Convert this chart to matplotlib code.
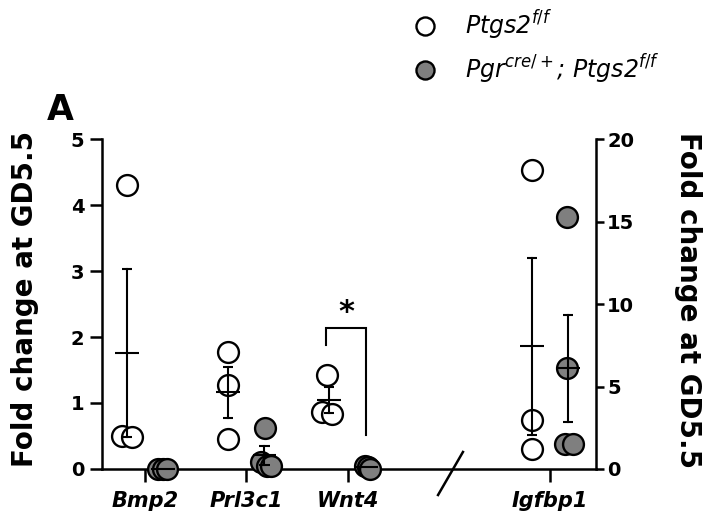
import matplotlib
matplotlib.use('Agg')
import matplotlib.pyplot as plt
import numpy as np
from matplotlib.lines import Line2D

# ---------------- data ----------------
categories = ['Bmp2', 'Prl3c1', 'Wnt4', 'Igfbp1']
cat_pos = [0, 1, 2, 4]          # category slots (slot 3 = axis break)

bmp2_ctrl = [4.30, 0.50, 0.48]
bmp2_cko = [0.00, 0.00, 0.00]
prl3c1_ctrl = [1.77, 1.27, 0.45]
prl3c1_cko = [0.62, 0.10, 0.05, 0.05]
wnt4_ctrl = [1.43, 0.86, 0.83]
wnt4_cko = [0.05, 0.03, 0.00]
igfbp1_ctrl = [18.1, 3.0, 1.2]      # right axis (0-20)
igfbp1_cko = [15.3, 6.1, 1.5, 1.5]  # right axis (0-20)

left_ticks = [0, 1, 2, 3, 4, 5]
right_ticks = [0, 5, 10, 15, 20]

label_ctrl = r'Ptgs2$^{f/f}$'
label_cko = r'Pgr$^{cre/+}$; Ptgs2$^{f/f}$'
ylabel = 'Fold change at GD5.5'

# ---------------- layout constants ----------------
GRP_OFF = 0.18
jitter = {
    'Bmp2': ([-0.18, -0.23, -0.13], [0.13, 0.18, 0.22]),
    'Prl3c1': ([-0.18, -0.18, -0.18], [0.19, 0.15, 0.20, 0.24]),
    'Wnt4': ([-0.20, -0.25, -0.15], [0.17, 0.20, 0.22]),
    'Igfbp1': ([-0.18, -0.18, -0.18], [0.17, 0.17, 0.15, 0.23]),
}
GRAY = '#7f7f7f'
LW = 1.5
SPW = 1.8

fig = plt.figure(figsize=(7.07, 5.23), dpi=100)
ax = fig.add_axes([102/707, 1-469/523, (596-102)/707, (469-139)/523])
ax2 = ax.twinx()


def draw_group(a, x0, vals, jit, face, side):
    vals = np.asarray(vals, dtype=float)
    xs = x0 + np.asarray(jit)
    a.plot(xs, vals, 'o', ms=15, mfc=face, mec='black', mew=1.7,
           zorder=3, clip_on=False)
    m = vals.mean()
    s = vals.std(ddof=1) / np.sqrt(len(vals))
    xc = x0 + side * GRP_OFF
    a.plot([xc - 0.118, xc + 0.118], [m, m], color='black', lw=LW, zorder=4,
           clip_on=False, solid_capstyle='butt')
    if s > 0.02:
        a.plot([xc, xc], [m - s, m + s], color='black', lw=LW, zorder=4,
               clip_on=False)
        for yy in (m - s, m + s):
            a.plot([xc - 0.05, xc + 0.05], [yy, yy], color='black', lw=LW,
                   zorder=4, clip_on=False, solid_capstyle='butt')


series = {
    'Bmp2': (bmp2_ctrl, bmp2_cko, ax),
    'Prl3c1': (prl3c1_ctrl, prl3c1_cko, ax),
    'Wnt4': (wnt4_ctrl, wnt4_cko, ax),
    'Igfbp1': (igfbp1_ctrl, igfbp1_cko, ax2),
}
for cat, pos in zip(categories, cat_pos):
    ctrl, cko, a = series[cat]
    jc, jk = jitter[cat]
    draw_group(a, pos, ctrl, jc, 'white', -1)
    draw_group(a, pos, cko, jk, GRAY, +1)

# axes limits / spines
ax.set_xlim(-0.4247, 4.454)
ax.set_ylim(0, 5)
ax2.set_ylim(0, 20)
for s in ('top', 'right'):
    ax.spines[s].set_visible(False)
for s in ('top', 'left', 'bottom'):
    ax2.spines[s].set_visible(False)
ax.spines['left'].set_linewidth(SPW)
ax.spines['bottom'].set_linewidth(SPW)
ax2.spines['right'].set_linewidth(SPW)

ax.set_xticks(cat_pos)
ax.set_xticklabels(categories, fontsize=15, fontweight='bold', fontstyle='italic')
ax.tick_params(axis='x', length=9, width=SPW, pad=7)
ax.set_yticks(left_ticks)
ax.set_yticklabels([str(t) for t in left_ticks], fontsize=14, fontweight='bold')
ax.tick_params(axis='y', length=8.6, width=SPW, pad=4)
ax2.set_yticks(right_ticks)
ax2.set_yticklabels([str(t) for t in right_ticks], fontsize=14, fontweight='bold')
ax2.tick_params(axis='y', length=6, width=SPW, pad=2)

# axis break slash
ax.plot([2.894, 3.14], [-0.394, 0.258], color='black', lw=SPW, clip_on=False,
        zorder=5)

# significance bracket (Wnt4)
xL, xR = 2 - 0.21, 2 + 0.18
ax.plot([xL, xL, xR, xR], [1.88, 2.14, 2.14, 0.52], color='black', lw=LW,
        zorder=4, solid_joinstyle='miter')
ax.text(1.99, 2.24, '*', ha='center', va='baseline', fontsize=22,
        fontweight='bold')

# axis titles
fig.text(25/707, 1-299/523, ylabel, rotation=90, ha='center', va='center',
         fontsize=20, fontweight='bold')
fig.text(688/707, 1-300/523, ylabel, rotation=270, ha='center', va='center',
         fontsize=20, fontweight='bold')
fig.text(60/707, 1-110/523, 'A', ha='center', va='center', fontsize=25,
         fontweight='bold')

# legend
handles = [
    Line2D([], [], ls='none', marker='o', ms=13, mfc='white', mec='black', mew=1.7),
    Line2D([], [], ls='none', marker='o', ms=13, mfc=GRAY, mec='black', mew=1.7),
]
fig.legend(handles, [label_ctrl, label_cko], loc='upper left',
           bbox_to_anchor=(413/707, 1-8/523), frameon=False,
           prop={'size': 17, 'style': 'italic'}, handlelength=1.0,
           handletextpad=1.2, labelspacing=0.45, borderpad=0,
           borderaxespad=0)

fig.savefig('out.png', dpi=100)
